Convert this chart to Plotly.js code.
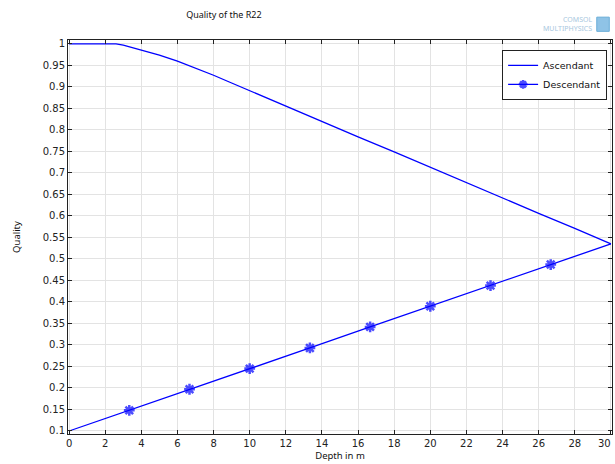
<!DOCTYPE html>
<html>
<head>
<meta charset="utf-8">
<script src="https://cdn.plot.ly/plotly-3.0.1.min.js"></script>
<style>html,body{margin:0;padding:0;background:#fff;}#chart{width:615px;height:464px;}</style>
</head>
<body>
<div id="chart"></div>
<script>
// Ascendant series
const ascDepth = [0, 2.6, 3, 4, 5, 6, 7, 8, 9, 10, 12, 14, 16, 18, 20, 22, 24, 26, 28, 30];
const ascQuality = [1, 1, 0.997, 0.986, 0.974, 0.96, 0.944, 0.927, 0.909, 0.891, 0.855, 0.82, 0.784, 0.749, 0.713, 0.677, 0.642, 0.606, 0.571, 0.535];
// Descendant series
const descDepth = [0, 3.333, 6.667, 10, 13.333, 16.667, 20, 23.333, 26.667, 30];
const descQuality = [0.1, 0.148, 0.197, 0.245, 0.293, 0.342, 0.39, 0.438, 0.487, 0.535];
const descMarked = [false, true, true, true, true, true, true, true, true, false];
const xTicks = [0, 2, 4, 6, 8, 10, 12, 14, 16, 18, 20, 22, 24, 26, 28, 30];
const xTickText = ['0', '2', '4', '6', '8', '10', '12', '14', '16', '18', '20', '22', '24', '26', '28', ''];
const xLastTick = 30;
const xLastTickText = '30';
const yTicks = [0.1, 0.15, 0.2, 0.25, 0.3, 0.35, 0.4, 0.45, 0.5, 0.55, 0.6, 0.65, 0.7, 0.75, 0.8, 0.85, 0.9, 0.95, 1];

const blue = '#0000ff';
const font = 'DejaVu Sans, sans-serif';
const tfont = 'Noto Sans, Open Sans, sans-serif';

const traces = [
  {x: ascDepth, y: ascQuality, name: 'Ascendant', mode: 'lines', type: 'scatter',
   line: {color: blue, width: 1.3}},
  {x: descDepth, y: descQuality, name: 'Descendant', mode: 'lines+markers', type: 'scatter',
   line: {color: blue, width: 1.3},
   marker: {symbol: 'asterisk-open', color: blue, size: descMarked.map(m => m ? 9 : 0), line: {color: blue, width: 2.5}}}
];

const axisCommon = {
  showline: true, linecolor: '#222', linewidth: 1, mirror: 'allticks',
  ticks: 'inside', ticklen: 4, tickcolor: '#222',
  showgrid: true, gridcolor: '#e3e3e3', gridwidth: 1, zeroline: false,
  tickfont: {family: font, size: 10, color: '#222'}
};

const layout = {
  width: 615, height: 464,
  margin: {l: 68, r: 3, t: 40, b: 30},
  paper_bgcolor: '#fff', plot_bgcolor: '#fff',
  font: {family: font, size: 10, color: '#222'},
  title: {text: 'Quality of the R22', font: {family: tfont, size: 9, color: '#111'},
          xref: 'container', yref: 'container', x: 0.364, xanchor: 'center', y: 0.967, yanchor: 'middle'},
  xaxis: Object.assign({}, axisCommon, {range: [-0.06, 30.06], tickvals: xTicks, ticktext: xTickText,
         title: {text: 'Depth in m', font: {family: tfont, size: 9.5, color: '#111'}, standoff: 1}}),
  yaxis: Object.assign({}, axisCommon, {range: [0.093, 1.009], tickvals: yTicks,
         ticktext: yTicks.map(v => String(v)),
         title: {text: 'Quality', font: {family: tfont, size: 9.5, color: '#111'}, standoff: 20}}),
  legend: {x: 0.991, xanchor: 'right', y: 0.975, yanchor: 'top', bgcolor: '#fff',
           bordercolor: '#222', borderwidth: 1, font: {family: font, size: 9.5, color: '#111'},
           tracegroupgap: 0, itemwidth: 30},
  showlegend: true,
  shapes: [
    {type: 'rect', xref: 'paper', yref: 'paper', x0: 0.972, x1: 0.995, y0: 1.022, y1: 1.058,
     fillcolor: '#8fc3e6', line: {color: '#6aaed8', width: 1}}
  ],
  annotations: [
    {text: 'COMSOL<br>MULTIPHYSICS', align: 'right', xref: 'paper', yref: 'paper', x: 0.966, y: 1.04,
     xanchor: 'right', yanchor: 'middle',
     showarrow: false, font: {family: tfont, size: 7, color: '#a9c8e0'}},
    {text: xLastTickText, xref: 'x', yref: 'paper', x: xLastTick, y: 0, xanchor: 'right', yanchor: 'top',
     xshift: 2, yshift: -2, showarrow: false, font: {family: font, size: 10, color: '#222'}}
  ]
};

Plotly.newPlot('chart', traces, layout, {displayModeBar: false, staticPlot: true});
</script>
</body>
</html>
